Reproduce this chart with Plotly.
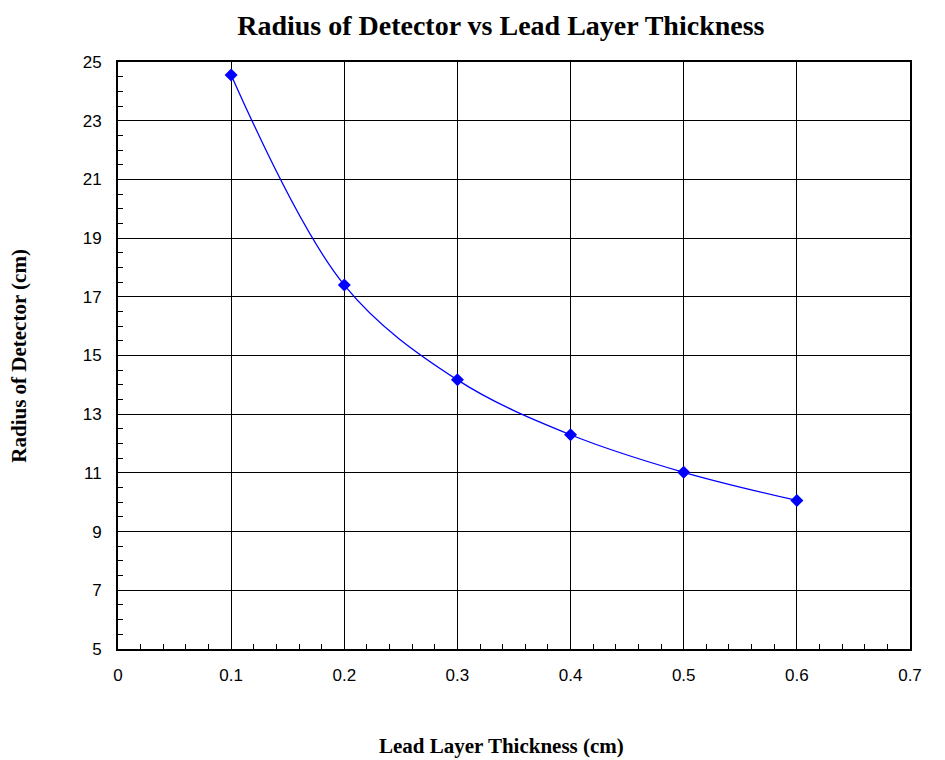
import plotly.graph_objects as go

thickness = [0.1, 0.2, 0.3, 0.4, 0.5, 0.6]
radius = [24.56, 17.4, 14.17, 12.3, 11.02, 10.06]

fig = go.Figure()
fig.add_trace(go.Scatter(
    x=thickness, y=radius, mode="lines+markers",
    line=dict(color="#0000ff", width=1.3, shape="spline", smoothing=1.0),
    marker=dict(symbol="diamond", size=10, color="#0000ff"),
    showlegend=False,
))

axis_common = dict(
    showline=True, linecolor="black", linewidth=2, mirror=True,
    showgrid=True, gridcolor="black", gridwidth=1,
    zeroline=False,
    ticks="inside", ticklen=6, tickcolor="black",
    tickfont=dict(family="Liberation Sans, Arial", size=17, color="black"),
)

fig.update_xaxes(
    range=[0, 0.7], tickvals=[0, 0.1, 0.2, 0.3, 0.4, 0.5, 0.6, 0.7],
    ticktext=["0", "0.1", "0.2", "0.3", "0.4", "0.5", "0.6", "0.7"],
    minor=dict(dtick=0.02, ticks="inside", ticklen=5, tickcolor="black", showgrid=False),
    ticklabelstandoff=10,
    **axis_common,
)
fig.update_yaxes(
    range=[5, 25], tickvals=[5, 7, 9, 11, 13, 15, 17, 19, 21, 23, 25],
    minor=dict(dtick=0.5, ticks="inside", ticklen=5, tickcolor="black", showgrid=False),
    ticklabelstandoff=11,
    **axis_common,
)

title_font = dict(family="Liberation Serif, Times New Roman", size=21, color="black")
fig.add_annotation(text="<b>Lead Layer Thickness (cm)</b>", xref="paper", yref="paper",
                   x=0.484, y=-0.165, xanchor="center", yanchor="middle",
                   showarrow=False, font=title_font)
fig.add_annotation(text="<b>Radius of Detector (cm)</b>", xref="paper", yref="paper",
                   x=-0.126, y=0.5, xanchor="center", yanchor="middle", textangle=-90,
                   showarrow=False, font=title_font)

fig.update_layout(
    width=945, height=760,
    margin=dict(l=118, r=35, t=62, b=111),
    paper_bgcolor="white", plot_bgcolor="white",
    title=dict(text="<b>Radius of Detector vs Lead Layer Thickness</b>",
               font=dict(family="Liberation Serif, Times New Roman", size=28, color="black"),
               x=0.53, xanchor="center", y=0.967, yanchor="middle"),
)

fig.write_html("out.html")
